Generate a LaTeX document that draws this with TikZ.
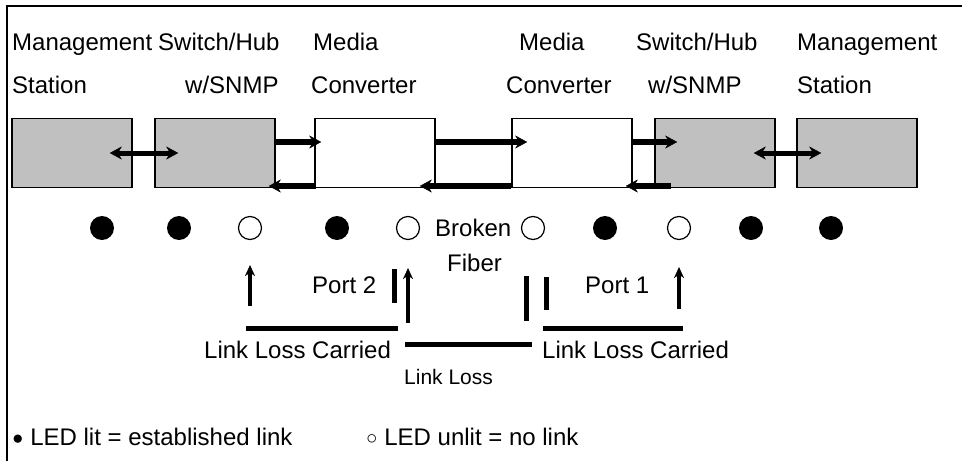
\documentclass[tikz,border=0pt]{standalone}
\usepackage{fontspec}
\setmainfont{Liberation Sans}
\usetikzlibrary{arrows.meta,positioning}
\definecolor{boxgray}{RGB}{192,192,192}
\newcommand{\ledmark}[1]{\raisebox{1.5pt}{\fontsize{19}{19}\selectfont #1}}

\begin{document}
\begin{tikzpicture}[x=1pt,y=-1pt,>={Stealth[length=12pt,width=13pt,line width=0.4pt]},
		label text/.style={font=\fontsize{24}{28}\selectfont,inner sep=0pt,anchor=west,text height=17pt,text depth=0pt},
		small text/.style={label text,font=\fontsize{21}{25}\selectfont,text height=15pt},
		dev node/.style={draw,line width=1.6pt,minimum width=120pt,minimum height=69pt,inner sep=0pt},
		mgmt node/.style={dev node,fill=boxgray},
		conv node/.style={dev node,fill=white},
		led on/.style={circle,fill=black,minimum size=24pt,inner sep=0pt},
		led off/.style={circle,draw,line width=1.2pt,minimum size=23pt,inner sep=0pt},
		flow/.style={->,line width=6pt},
		both flow/.style={<->,line width=5pt},
		sense/.style={->,line width=4pt,>={Stealth[length=11pt,width=10pt,line width=0.4pt]}},
		bar/.style={line width=5pt}]
		\useasboundingbox (0,0) rectangle (962,461);
		% frame
		\draw[line width=2pt] (7,461) -- (7,6) -- (962,6);
		
		% device names
		\node[label text] (n1) at (12,42) {Management};
		\node[label text] (n2) at (158,42) {Switch/Hub};
		\node[label text] (n3) at (313,42) {Media};
		\node[label text] (n4) at (519,42) {Media};
		\node[label text] (n5) at (636,42) {Switch/Hub};
		\node[label text] (n6) at (797,42) {Management};
		\node[label text] (m1) at (12,85) {Station};
		\node[label text] (m2) at (185,85) {w/SNMP};
		\node[label text] (m3) at (311,85) {Converter};
		\node[label text] (m4) at (506,85) {Converter};
		\node[label text] (m5) at (648,85) {w/SNMP};
		\node[label text] (m6) at (797,85) {Station};
		
		% devices
		\node[mgmt node] (sta1) at (72,153) {};
		\node[mgmt node] (hub1) at (215,153) {};
		\node[conv node] (conv1) at (375,153) {};
		\node[conv node] (conv2) at (572,153) {};
		\node[mgmt node] (hub2) at (715,153) {};
		\node[mgmt node] (sta2) at (857,153) {};
		
		% traffic
		\draw[both flow,shorten <=-23pt,shorten >=-24pt] (sta1) -- (hub1);
		\draw[both flow,shorten <=-22pt,shorten >=-25pt] (hub2) -- (sta2);
		\draw[flow,shorten >=-7pt] ([yshift=11pt]hub1.east) -- ([yshift=11pt]conv1.west);
		\draw[flow,shorten >=-16pt] ([yshift=11pt]conv1.east) -- ([yshift=11pt]conv2.west);
		\draw[flow,shorten >=-23pt] ([yshift=11pt]conv2.east) -- ([yshift=11pt]hub2.west);
		\draw[flow,shorten <=-2pt,shorten >=-7pt] ([yshift=-33pt]conv1.west) -- ([yshift=-33pt]hub1.east);
		\draw[flow,shorten >=-16pt] ([yshift=-33pt]conv2.west) -- ([yshift=-33pt]conv1.east);
		\draw[flow,shorten <=-17pt,shorten >=-7pt] ([yshift=-33pt]hub2.west) -- ([yshift=-33pt]conv2.east);
		
		% LEDs
		\foreach \x/\s [count=\i] in {102/led on,179/led on,250/led off,337/led on,408/led off,
				533/led off,605/led on,679/led off,751/led on,831/led on}
			\node[\s] (led\i) at (\x,228) {};
		\node[label text] (broken) at (435,228) {Broken};
		\node[label text] (fiber) at (447,263) {Fiber};
		
		% link loss
		\coordinate (p2l) at (250,306);
		\coordinate (p2r) at (408,323);
		\coordinate (p1r) at (679,309);
		\draw[sense,shorten >=25pt] (p2l) -- (led3);
		\draw[sense,shorten >=28pt] (p2r) -- (led5);
		\draw[sense,shorten >=27pt] (p1r) -- (led8);
		\draw[bar] (394,269) -- (394,303);
		\draw[bar] (526,276) -- (526,321);
		\draw[bar] (546,277) -- (546,310);
		\draw[bar] (246,328) -- (398,328);
		\draw[bar] (405,344) -- (532,344);
		\draw[bar] (543,328) -- (683,328);
		\node[label text] (port2) at (312,285) {Port 2};
		\node[label text] (port1) at (585,285) {Port 1};
		\node[label text] (carry2) at (204,350) {Link Loss Carried};
		\node[label text] (carry1) at (542,350) {Link Loss Carried};
		\node[small text] (loss) at (404,377) {Link Loss};
		
		% legend
		\node[label text] (lit) at (12,437) {\ledmark{●} LED lit = established link};
		\node[label text] (unlit) at (366,437) {\ledmark{○} LED unlit = no link};
		
		\end{tikzpicture}
\end{document}
